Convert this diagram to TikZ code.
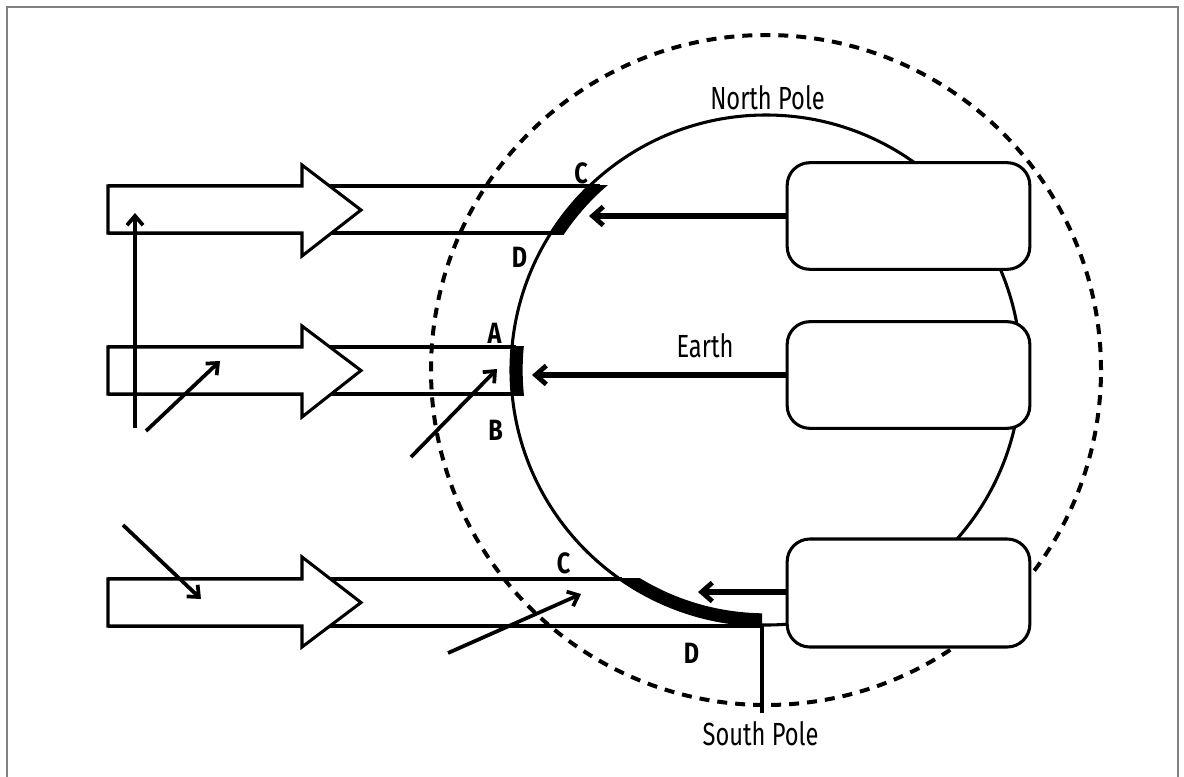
\documentclass[tikz,border=0pt]{standalone}
\usepackage{fontspec}
\setmainfont{Fira Sans}[FakeStretch=0.74]
\newfontfamily\boldcond{Fira Sans Bold}[FakeStretch=0.8]
\usetikzlibrary{arrows.meta}
\tikzset{
  thinline/.style={line width=2.3pt, black},
  blockarrow/.style={line width=2.3pt, fill=white, draw=black, line join=miter},
  infobox/.style={draw=black, fill=white, line width=2.3pt, rounded corners=17pt, minimum width=182pt, minimum height=80pt, inner sep=0pt},
  smallarrow/.style={line width=2.8pt, -{Straight Barb[length=7pt,width=12pt,line width=2.8pt]}},
  bigarrow/.style={line width=4pt, -{Straight Barb[length=8pt,width=14pt,line width=3.6pt]}},
  lbl/.style={font=\fontsize{24}{28}\selectfont, anchor=base, inner sep=0pt},
  blbl/.style={font=\fontsize{22}{26}\boldcond, anchor=base, inner sep=0pt},
}
\begin{document}
\begin{tikzpicture}[x=0.75pt,y=-0.75pt]
\useasboundingbox (0,0) rectangle (1184,776);
% frame
\draw[line width=1.3pt, color=gray] (7,780) -- (7,7) -- (1178,7) -- (1178,780);
% circles
\coordinate (O) at (766,370);
\draw[line width=3pt, dash pattern=on 7.5pt off 6pt] (O) circle[radius=251.25pt];
\draw[thinline] (O) circle[radius=191.25pt];
% shaft lines
\coordinate (s1a) at (600,186); \coordinate (s1b) at (560,233);
\coordinate (s2a) at (516,347); \coordinate (s2b) at (516,394);
\coordinate (s3a) at (622,579); \coordinate (s3b) at (762,626);
\draw[thinline] (108,186) -- (s1a);
\draw[thinline] (108,233) -- (s1b);
\draw[thinline] (108,347) -- (s2a);
\draw[thinline] (108,394) -- (s2b);
\draw[thinline] (108,579) -- (s3a);
\draw[thinline] (108,626) -- (s3b);
% thick bands on earth
\begin{scope}
\clip (400,185) rectangle (700,234);
\fill[even odd rule] (O) circle[radius=192pt] (O) circle[radius=182.5pt];
\end{scope}
\begin{scope}
\clip (400,346) rectangle (700,395);
\fill[even odd rule] (O) circle[radius=192pt] (O) circle[radius=182.5pt];
\end{scope}
\begin{scope}
\clip (400,578) rectangle (762,640);
\fill[even odd rule] (O) circle[radius=192pt] (O) circle[radius=182.5pt];
\end{scope}
% block arrows
\draw[blockarrow] (108,186) -- (302,186) -- (302,165) -- (361,210) -- (302,256) -- (302,233) -- (108,233) -- cycle;
\draw[blockarrow] (108,347) -- (302,347) -- (302,326) -- (361,370.5) -- (302,417) -- (302,394) -- (108,394) -- cycle;
\draw[blockarrow] (108,579) -- (302,579) -- (302,557) -- (361,602.5) -- (302,647) -- (302,626) -- (108,626) -- cycle;
% boxes
\node[infobox] (b1) at (908.5,216) {};
\node[infobox] (b2) at (908.5,375) {};
\node[infobox, minimum height=81pt] (b3) at (908.5,593) {};
% horizontal arrows
\coordinate (t1) at (589,216);
\coordinate (t2) at (532,375);
\coordinate (t3) at (698,592);
\draw[bigarrow] (b1.west) -- (t1);
\draw[bigarrow] (b2.west) -- (t2);
\draw[bigarrow] (b3.west |- t3) -- (t3);
% south pole line
\coordinate (sp1) at (762,624);
\coordinate (sp2) at (762,713);
\draw[thinline] (sp1) -- (sp2);
% small arrows
\coordinate (a1s) at (135,428); \coordinate (a1e) at (135,213);
\coordinate (a2s) at (146,431); \coordinate (a2e) at (220,361);
\coordinate (a3s) at (411,457); \coordinate (a3e) at (497,369);
\coordinate (a4s) at (123,525); \coordinate (a4e) at (201,599);
\coordinate (a5s) at (448,653); \coordinate (a5e) at (581,594);
\draw[smallarrow] (a1s) -- (a1e);
\draw[smallarrow] (a2s) -- (a2e);
\draw[smallarrow] (a3s) -- (a3e);
\draw[smallarrow] (a4s) -- (a4e);
\draw[smallarrow] (a5s) -- (a5e);
% labels
\node[lbl] (np) at (767.5,109) {North Pole};
\node[lbl] (ea) at (705,357) {Earth};
\node[lbl] (spl) at (760.5,745) {South Pole};
\node[blbl] (c1) at (581,183) {C};
\node[blbl] (d1) at (519.5,267) {D};
\node[blbl] (la) at (494.5,343) {A};
\node[blbl] (lb) at (495.5,440) {B};
\node[blbl] (c2) at (563.5,573) {C};
\node[blbl] (d2) at (691.5,663) {D};
\end{tikzpicture}
\end{document}
